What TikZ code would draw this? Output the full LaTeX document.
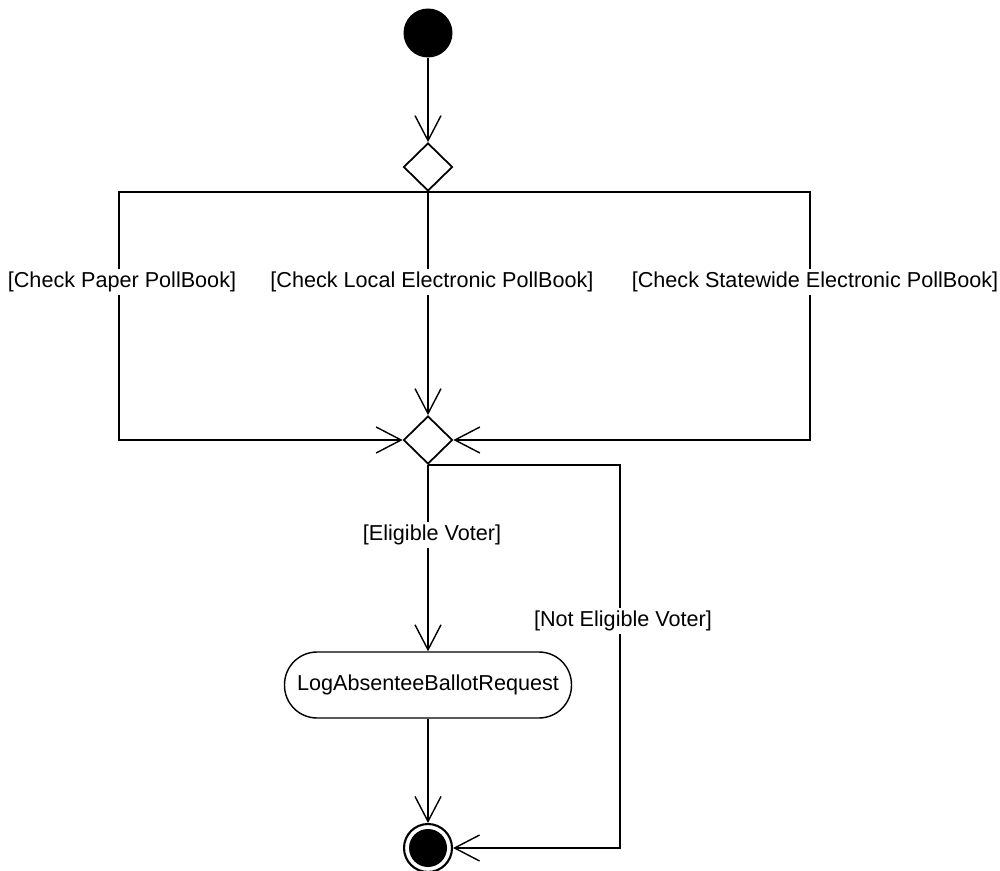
\documentclass[tikz,border=0pt]{standalone}
\usepackage{fontspec}
\setmainfont{Liberation Sans}
\usetikzlibrary{shapes.geometric,arrows.meta}
\begin{document}
\begin{tikzpicture}[x=0.02cm,y=-0.02cm,
  line/.style={line width=0.8pt},
  arr/.style={line, -{Straight Barb[length=0.5cm,width=0.52cm,line width=0.8pt]}},
  decision/.style={diamond, draw, line width=1pt, minimum width=0.98cm, minimum height=0.96cm, inner sep=0pt, aspect=1},
  lbl/.style={fill=white, inner sep=1.5pt, font=\fontsize{12.3}{14}\selectfont},
  action/.style={draw, line width=0.8pt, rounded corners=0.65cm, minimum width=5.74cm, minimum height=1.32cm, font=\fontsize{12.3}{14}\selectfont}
]
\useasboundingbox (0,0) rectangle (1000,871);
\node[circle, fill=black, minimum size=0.98cm, inner sep=0pt] (start) at (428,33) {};
\node[decision] (d1) at (428,167) {};
\node[decision] (d2) at (428,440) {};
\node[action] (act) at (428,685) {LogAbsenteeBallotRequest};
\node[circle, draw, line width=1.2pt, minimum size=0.96cm, inner sep=0pt] (end) at (428,848) {};
\fill (end.center) circle (0.38cm);
\coordinate (pl) at (119,440);
\coordinate (pr) at (810,440);
\coordinate (nr) at (620,848);

\draw[arr] (start) -- (d1.north);
\draw[arr] (d1.south) -| (pl) -- (d2.west);
\draw[arr] (d1.south) -| (pr) -- (d2.east);
\draw[arr] (d1.south) -- (d2.north);
\draw[arr] (d2.south) -- (act.north);
\draw[arr] (d2.south) -| (nr) -- (end.east);
\draw[arr] (act.south) -- (end.north);

\node[lbl] (l1) at (122,282) {[Check Paper PollBook]};
\node[lbl] (l2) at (432,282) {[Check Local Electronic PollBook]};
\node[lbl] (l3) at (815,282) {[Check Statewide Electronic PollBook]};
\node[lbl] (l4) at (432,535) {[Eligible Voter]};
\node[lbl] (l5) at (623,621) {[Not Eligible Voter]};
\end{tikzpicture}
\end{document}
